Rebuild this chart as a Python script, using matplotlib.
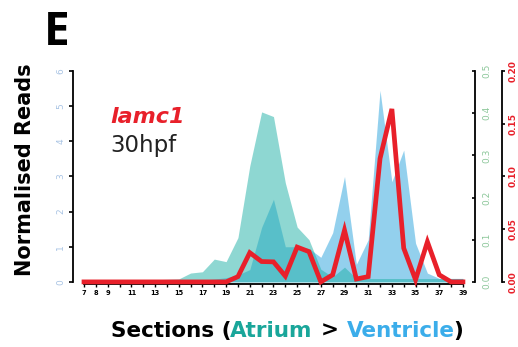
import numpy as np
import matplotlib
matplotlib.use("Agg")
import matplotlib.pyplot as plt

# sections along the heart tube
sections = list(range(7, 40))
tick_labels = ["7", "8", "9", "", "11", "", "13", "", "15", "", "17", "", "19", "",
               "21", "", "23", "", "25", "", "27", "", "29", "", "31", "", "33", "",
               "35", "", "37", "", "39"]

# ventricle reads (left axis, 0-6)
ventricle = [0.05, 0.05, 0.05, 0.05, 0.05, 0.05, 0.05, 0.05, 0.05, 0.05, 0.05,
             0.08, 0.12, 0.2, 0.35, 1.55, 2.35, 1.0, 1.0, 0.95, 0.7, 1.4, 3.0,
             0.5, 1.2, 5.45, 2.85, 3.75, 1.1, 0.25, 0.1, 0.1, 0.1]

# atrium reads (green axis, 0-0.5)
atrium = [0.004, 0.005, 0.005, 0.005, 0.005, 0.005, 0.005, 0.006, 0.007, 0.021,
          0.024, 0.054, 0.048, 0.105, 0.275, 0.403, 0.392, 0.235, 0.13, 0.1,
          0.03, 0.012, 0.035, 0.008, 0.008, 0.008, 0.008, 0.008, 0.008, 0.008,
          0.008, 0.008, 0.008]

# lamc1 reads (red axis, 0-0.20)
lamc1 = [0, 0, 0, 0, 0, 0, 0, 0, 0, 0, 0, 0, 0, 0.005, 0.0277, 0.0193, 0.019,
         0.0055, 0.033, 0.0287, 0.0, 0.0067, 0.049, 0.0027, 0.005, 0.117, 0.164,
         0.032, 0.002, 0.038, 0.0067, 0.0, 0.0]

FONT = "DejaVu Sans"

fig = plt.figure(figsize=(5.18, 3.47), dpi=100)
ax = fig.add_axes([73 / 518, 1 - 284 / 347, 402 / 518, 213 / 347])
axg = ax.twinx()
axr = ax.twinx()

# areas and line
ax.fill_between(sections, 0, ventricle, color="#29a3dd", alpha=0.5, lw=0)
axg.fill_between(sections, 0, atrium, color="#1eb0a6", alpha=0.5, lw=0)
axr.plot(sections, lamc1, color="#e8202a", lw=3.4, clip_on=False,
         solid_joinstyle="miter")

ax.set_xlim(6.07, 40.02)
ax.set_ylim(-0.06, 6)
axg.set_ylim(-0.005, 0.5)
axr.set_ylim(-0.002, 0.2)

# left axis
for s in ["top", "right"]:
    ax.spines[s].set_visible(False)
ax.spines["left"].set_bounds(0, 6)
ax.spines["bottom"].set_bounds(7, 39)
ax.spines["left"].set_linewidth(1.3)
ax.spines["bottom"].set_linewidth(1.3)
ax.set_yticks(range(0, 7))
ax.tick_params(axis="y", direction="out", length=3, width=1.2, pad=2.5,
               labelsize=6.5, labelcolor="#a9c4e4", labelrotation=90)
for t in ax.get_yticklabels():
    t.set_va("center")
ax.set_xticks(sections)
ax.set_xticklabels(tick_labels, fontweight="bold")
ax.tick_params(axis="x", direction="out", length=2.5, width=1.0, pad=1.5,
               labelsize=4.8)

# green axis
for s in ["top", "left", "bottom"]:
    axg.spines[s].set_visible(False)
axg.spines["right"].set_bounds(0, 0.5)
axg.spines["right"].set_linewidth(1.3)
axg.set_yticks([0, 0.1, 0.2, 0.3, 0.4, 0.5])
axg.set_yticklabels(["0.0", "0.1", "0.2", "0.3", "0.4", "0.5"])
axg.tick_params(axis="y", direction="in", length=2.5, width=1.2, pad=5,
                labelsize=6.5, labelcolor="#8cc79a", labelrotation=90)
for t in axg.get_yticklabels():
    t.set_va("center")

# red axis
for s in ["top", "left", "bottom"]:
    axr.spines[s].set_visible(False)
axr.spines["right"].set_position(("outward", 19.5))
axr.spines["right"].set_bounds(0, 0.2)
axr.spines["right"].set_linewidth(1.3)
axr.set_yticks([0, 0.05, 0.1, 0.15, 0.2])
axr.set_yticklabels(["0.00", "0.05", "0.10", "0.15", "0.20"], fontweight="bold")
axr.tick_params(axis="y", direction="out", length=2.5, width=1.2, pad=2,
                labelsize=6.5, labelcolor="#e8202a", labelrotation=90)
for t in axr.get_yticklabels():
    t.set_va("center")

# texts
fig.text(44 / 518, 1 - 45 / 347, "E", fontsize=33, fontweight="bold",
         family="Open Sans", va="baseline")
fig.text(25 / 518, 1 - 170 / 347, "Normalised Reads", rotation=90,
         fontsize=15, fontweight="bold", family=FONT, ha="center", va="center")
fig.text(110 / 518, 1 - 123 / 347, "lamc1", fontsize=16, fontweight="bold",
         style="italic", family=FONT, color="#e8202a", va="baseline")
fig.text(110 / 518, 1 - 152 / 347, "30hpf", fontsize=16.5,
         family=FONT, color="#222222", va="baseline")

# x label in coloured pieces, laid out side by side
pieces = [("Sections (", "black"), ("Atrium", "#1aa69a"), (">", "black"),
          ("Ventricle", "#3badea"), (")", "black")]
gaps = [-1, 8, 8, -1]  # pixels between pieces
base_y = 1 - 337 / 347
texts = [fig.text(0, base_y, t, color=c, fontsize=15.5, fontweight="bold",
                  family=FONT, va="baseline", ha="left") for t, c in pieces]
renderer = fig.canvas.get_renderer()
widths = [t.get_window_extent(renderer).width for t in texts]
total = sum(widths) + sum(gaps)
x = 287 - total / 2
for i, t in enumerate(texts):
    t.set_x(x / 518)
    x += widths[i] + (gaps[i] if i < len(gaps) else 0)

fig.savefig("out.png", dpi=100)
